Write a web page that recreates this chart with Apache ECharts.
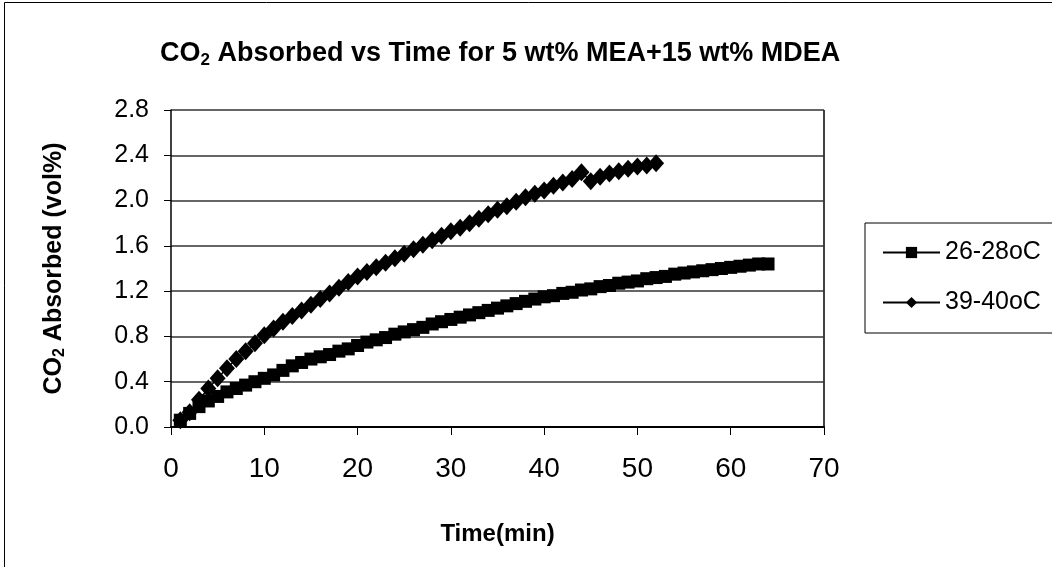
<!DOCTYPE html>
<html>
<head>
<meta charset="utf-8">
<script src="https://cdn.jsdelivr.net/npm/echarts@6/dist/echarts.min.js"></script>
<style>html,body{margin:0;padding:0;background:#fff}#c{width:1052px;height:567px}</style>
</head>
<body>
<div id="c"></div>
<script>
var seriesNames = ['26-28oC', '39-40oC'];
var timeA = [1,2,3,4,5,6,7,8,9,10,11,12,13,14,15,16,17,18,19,20,21,22,23,24,25,26,27,28,29,30,31,32,33,34,35,36,37,38,39,40,41,42,43,44,45,46,47,48,49,50,51,52,53,54,55,56,57,58,59,60,61,62,63,64];
var valA = [0.06,0.12,0.18,0.23,0.27,0.31,0.34,0.37,0.40,0.43,0.46,0.50,0.54,0.57,0.60,0.62,0.64,0.67,0.69,0.72,0.75,0.77,0.79,0.82,0.84,0.86,0.88,0.91,0.93,0.95,0.97,0.99,1.01,1.03,1.05,1.07,1.09,1.11,1.13,1.15,1.16,1.18,1.19,1.21,1.22,1.24,1.25,1.27,1.28,1.29,1.31,1.32,1.33,1.35,1.36,1.37,1.38,1.39,1.40,1.41,1.42,1.43,1.44,1.44];
var timeB = [1,2,3,4,5,6,7,8,9,10,11,12,13,14,15,16,17,18,19,20,21,22,23,24,25,26,27,28,29,30,31,32,33,34,35,36,37,38,39,40,41,42,43,44,45,46,47,48,49,50,51,52];
var valB = [0.06,0.13,0.24,0.34,0.43,0.52,0.60,0.67,0.74,0.81,0.87,0.93,0.98,1.03,1.08,1.13,1.18,1.23,1.28,1.33,1.37,1.41,1.45,1.49,1.53,1.57,1.61,1.65,1.69,1.73,1.76,1.80,1.84,1.88,1.92,1.95,1.99,2.03,2.06,2.09,2.13,2.16,2.19,2.25,2.17,2.21,2.24,2.26,2.28,2.30,2.31,2.33];
var xTicks = {min: 0, max: 70, interval: 10};
var yTicks = {min: 0, max: 2.8, interval: 0.4};

function pairs(xs, ys) { return xs.map(function (x, i) { return [x, ys[i]]; }); }

var FONT = '"Liberation Sans", Arial, sans-serif';
var chart = echarts.init(document.getElementById('c'), null, {renderer: 'canvas'});
chart.setOption({
  backgroundColor: '#fff',
  animation: false,
  graphic: [{
    type: 'rect', shape: {x: 4.5, y: 2.5, width: 1200, height: 700},
    style: {fill: 'none', stroke: '#000', lineWidth: 1}, silent: true, z: -10
  }, {
    type: 'line', shape: {x1: 824, y1: 110, x2: 824, y2: 427},
    style: {stroke: '#000', lineWidth: 1.5}, silent: true
  }],
  title: {
    left: 155, top: 34,
    text: '{a|CO}{s|2}{a| Absorbed vs Time for 5 wt% MEA+15 wt% MDEA}',
    textStyle: {
      rich: {
        a: {fontFamily: FONT, fontWeight: 'bold', fontSize: 27, color: '#000'},
        s: {fontFamily: FONT, fontWeight: 'bold', fontSize: 17, color: '#000', verticalAlign: 'bottom', padding: [13, 0, 0, 0]}
      }
    }
  },
  legend: {
    orient: 'vertical', left: 865, top: 223,
    padding: [17, 40, 18, 17], itemGap: 25,
    itemWidth: 57, itemHeight: 14,
    borderColor: '#000', borderWidth: 1,
    textStyle: {fontFamily: FONT, fontSize: 25, color: '#000', padding: [0, 0, 0, 0]},
    data: seriesNames
  },
  grid: {left: 171, right: 228, top: 110, bottom: 140, containLabel: false, show: false},
  xAxis: {
    type: 'value', min: xTicks.min, max: xTicks.max, interval: xTicks.interval,
    name: 'Time(min)', nameLocation: 'middle', nameGap: 95,
    nameTextStyle: {fontFamily: FONT, fontWeight: 'bold', fontSize: 24, color: '#000'},
    axisLine: {show: true, onZero: false, lineStyle: {color: '#000', width: 2}},
    axisTick: {show: true, length: 8, lineStyle: {color: '#000', width: 1}},
    axisLabel: {fontFamily: FONT, fontSize: 28, color: '#000', margin: 28},
    splitLine: {show: false}
  },
  yAxis: {
    type: 'value', min: yTicks.min, max: yTicks.max, interval: yTicks.interval,
    name: '{b|CO}{s|2}{b| Absorbed (vol%)}', nameLocation: 'middle', nameGap: 103, nameRotate: 90,
    nameTextStyle: {
      rich: {
        b: {fontFamily: FONT, fontWeight: 'bold', fontSize: 25, color: '#000'},
        s: {fontFamily: FONT, fontWeight: 'bold', fontSize: 16, color: '#000', verticalAlign: 'bottom', padding: [11, 0, 0, 0]}
      }
    },
    axisLine: {show: true, lineStyle: {color: '#000', width: 1.5}},
    axisTick: {show: true, length: 7, lineStyle: {color: '#000', width: 1}},
    axisLabel: {fontFamily: FONT, fontSize: 25, color: '#000', margin: 22,
      formatter: function (v) { return v.toFixed(1); }},
    splitLine: {show: true, lineStyle: {color: '#333', width: 1.5}}
  },
  series: [{
    name: seriesNames[0], type: 'line', data: pairs(timeA, valA),
    symbol: 'rect', symbolSize: 13, showAllSymbol: true,
    itemStyle: {color: '#000'}, lineStyle: {color: '#000', width: 1.5}
  }, {
    name: seriesNames[1], type: 'line', data: pairs(timeB, valB),
    symbol: 'diamond', symbolSize: [16, 18], showAllSymbol: true,
    itemStyle: {color: '#000'}, lineStyle: {color: '#000', width: 1.5}
  }]
});
</script>
</body>
</html>
